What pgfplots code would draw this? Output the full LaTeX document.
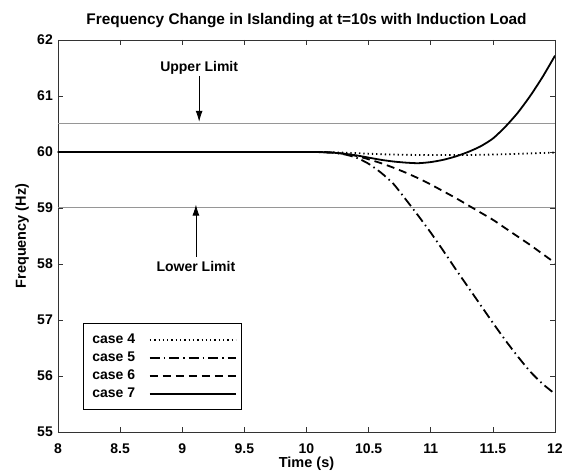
\documentclass[border=0pt]{standalone}
\usepackage{fontspec}
\setmainfont{Liberation Sans}
\usepackage{pgfplots}
\pgfplotsset{compat=1.18}
\usetikzlibrary{arrows.meta}
\definecolor{limgray}{RGB}{150,150,150}
\newcommand{\fs}[1]{\fontsize{#1}{#1}\selectfont\bfseries}
\begin{document}
\begin{tikzpicture}
\begin{axis}[
  scale only axis, width=497pt, height=392pt,
  xmin=8, xmax=12, ymin=55, ymax=62,
  xtick={8,8.5,9,9.5,10,10.5,11,11.5,12},
  ytick={55,56,57,58,59,60,61,62},
  /pgf/number format/assume math mode=true,
  tick label style={font=\fs{14}},
  xticklabel style={anchor=base, yshift=-21.5pt, inner sep=0pt},
  yticklabel style={anchor=east, xshift=-5pt, inner sep=0pt},
  major tick length=5pt,
  tick style={black!80, line width=0.7pt},
  axis line style={black!80, line width=0.8pt},
  title={Frequency Change in Islanding at t=10s with Induction Load},
  title style={font=\fs{15.4}, at={(axis description cs:0.5,1.0255)}, anchor=base, inner sep=0pt},
  xlabel={Time (s)},
  xlabel style={font=\fs{14.5}, at={(axis description cs:0.5,-0.0905)}, anchor=base, inner sep=0pt},
  ylabel={Frequency (Hz)},
  ylabel style={font=\fs{14.5}, at={(axis description cs:-0.0644,0.5)}, anchor=base, rotate=0, inner sep=0pt},
  legend plot pos=right,
  legend cell align=left,
  legend image code/.code={\draw[#1] (0pt,0pt) -- (78pt,0pt); \path (0pt,0pt) -- (86pt,0pt);},
  legend style={at={(0.05,0.056)}, anchor=south west, draw=black, line width=0.8pt,
    inner xsep=5pt, inner ysep=7pt, font=\fs{14},
    nodes={inner xsep=4pt, inner ysep=2.5pt, text height=10pt, text depth=3pt},
    column sep=10pt, row sep=0pt},
]
\addplot[limgray, line width=1pt, forget plot] coordinates {(8,60.5) (12,60.5)};
\addplot[limgray, line width=1pt, forget plot] coordinates {(8,59) (12,59)};

\addplot[black, line width=1.8pt, dash pattern=on 1.3pt off 3pt, smooth, tension=0.4] coordinates {
(8,60) (10,60) (10.2,59.995) (10.4,59.98) (10.6,59.96) (10.8,59.95) (11.0,59.945) (11.2,59.945) (11.4,59.95) (11.6,59.96) (11.8,59.975) (12,59.99)};
\addlegendentry{case 4}

\addplot[black, line width=1.8pt, dash pattern=on 10pt off 4pt on 1.5pt off 4pt, smooth, tension=0.4] coordinates {
(8,60) (10,60) (10.1,59.998) (10.2,59.99) (10.3,59.96) (10.4,59.9) (10.5,59.79) (10.6,59.63) (10.7,59.43) (10.8,59.15) (10.9,58.86) (11.0,58.56) (11.1,58.24) (11.2,57.91) (11.3,57.59) (11.4,57.27) (11.5,56.95) (11.6,56.64) (11.7,56.35) (11.8,56.08) (11.9,55.86) (12,55.68)};
\addlegendentry{case 5}

\addplot[black, line width=1.8pt, dash pattern=on 8pt off 5pt, smooth, tension=0.4] coordinates {
(8,60) (10,60) (10.1,59.998) (10.2,59.99) (10.3,59.97) (10.4,59.93) (10.5,59.87) (10.6,59.8) (10.7,59.72) (10.8,59.63) (10.9,59.53) (11.0,59.42) (11.1,59.3) (11.2,59.18) (11.3,59.05) (11.4,58.92) (11.5,58.79) (11.6,58.64) (11.7,58.49) (11.8,58.34) (11.9,58.18) (12,58.02)};
\addlegendentry{case 6}

\addplot[black, line width=1.8pt, smooth, tension=0.4] coordinates {
(8,60) (10,60) (10.1,59.998) (10.2,59.99) (10.3,59.97) (10.4,59.94) (10.5,59.9) (10.6,59.86) (10.7,59.83) (10.8,59.81) (10.9,59.8) (11.0,59.82) (11.1,59.86) (11.2,59.92) (11.3,60.0) (11.4,60.1) (11.5,60.24) (11.6,60.45) (11.7,60.7) (11.8,61.0) (11.9,61.34) (12,61.72)};
\addlegendentry{case 7}

\draw[-{Latex[length=11pt,width=7pt]}, line width=0.8pt] (axis cs:9.136,61.36) -- (axis cs:9.136,60.54);
\node[anchor=base, font=\fs{14}, inner sep=0pt] at (axis cs:9.136,61.43) {Upper Limit};
\draw[-{Latex[length=11pt,width=7pt]}, line width=0.8pt] (axis cs:9.11,58.13) -- (axis cs:9.11,59.06);
\node[anchor=base, font=\fs{14}, inner sep=0pt] at (axis cs:9.11,57.87) {Lower Limit};
\end{axis}
\pgfresetboundingbox
\path[use as bounding box] (-58pt,-39pt) rectangle (505pt,432pt);
\end{tikzpicture}
\end{document}
